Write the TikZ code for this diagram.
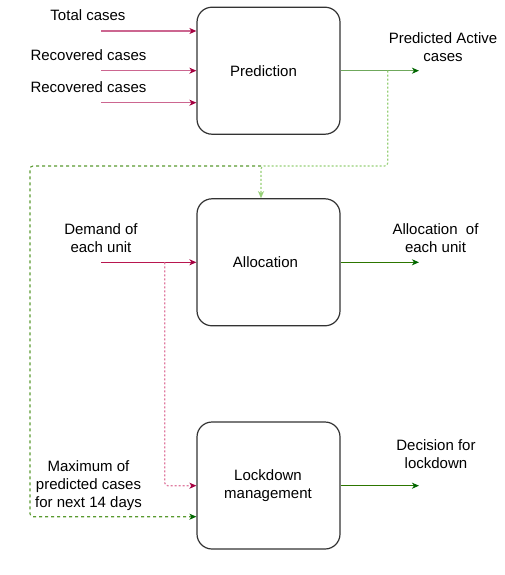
\documentclass[tikz,border=0pt]{standalone}
\usepackage{fontspec}
\setmainfont{Liberation Sans}
\usetikzlibrary{arrows.meta}
\definecolor{boxline}{HTML}{333333}
\definecolor{pinkline}{HTML}{CC6690}
\definecolor{pinkdark}{HTML}{A50040}
\definecolor{pinkmid}{HTML}{B8164F}
\definecolor{pinkdot}{HTML}{E07BA0}
\definecolor{greenlight}{HTML}{6FA85C}
\definecolor{greendark}{HTML}{2D7600}
\definecolor{greentip}{HTML}{006600}
\definecolor{greenpale}{HTML}{97D077}
\definecolor{greendash}{HTML}{5A9A30}
\tikzset{
  x=1pt,y=-1pt,
  procbox/.style={draw=boxline,line width=1.2pt,rounded corners=15pt,minimum width=143pt,minimum height=127pt,inner sep=0pt,font=\fontsize{15}{18}\selectfont,align=center},
  lbl/.style={font=\fontsize{15}{18}\selectfont,align=center,inner sep=0pt},
  pinktip/.style={-{Stealth[length=7pt,width=6pt,inset=2pt,color=pinkdark]}},
  greentipstyle/.style={-{Stealth[length=7pt,width=6pt,inset=2pt,color=greentip]}},
  inarrow/.style={pinktip,draw=pinkline,line width=1.5pt},
  inarrowdark/.style={pinktip,draw=pinkmid,line width=1.3pt},
  outarrow/.style={greentipstyle,draw=greendark,line width=1.3pt},
  outarrowlight/.style={greentipstyle,draw=greenlight,line width=1.6pt},
  paledash/.style={-{Stealth[length=7pt,width=6pt,inset=2pt,color=greenpale]},draw=greenpale,line width=1.1pt,dash pattern=on 2pt off 2pt,rounded corners=3pt},
  darkdash/.style={greentipstyle,draw=greendash,line width=1.1pt,dash pattern=on 3pt off 3pt,rounded corners=3pt},
  pinkdotted/.style={pinktip,draw=pinkdot,line width=1.2pt,dash pattern=on 2pt off 2pt,rounded corners=3pt}
}
\begin{document}
\begin{tikzpicture}
\useasboundingbox[fill=white] (0,0) rectangle (505,575);
% boxes
\node[procbox] (pred) at (268.5,70.7) {};
\node[lbl] (predt) at (263.5,71) {Prediction};
\node[procbox] (alloc) at (268.5,262.3) {};
\node[lbl] (alloct) at (265.5,262.3) {Allocation};
\node[procbox] (lock) at (268.5,485.5) {};
\node[lbl] (lockt) at (268,486) {Lockdown\\management};
% labels
\node[lbl] (l1) at (88,15) {Total cases};
\node[lbl] (l2) at (88.5,55) {Recovered cases};
\node[lbl] (l3) at (88.5,87) {Recovered cases};
\node[lbl] (lpa) at (443,47) {Predicted Active\\cases};
\node[lbl] (ldem) at (101,238.3) {Demand of\\each unit};
\node[lbl] (lal) at (435.5,238.3) {Allocation\ \ of\\each unit};
\node[lbl] (ldec) at (436,454) {Decision for\\lockdown};
\node[lbl] (lmax) at (88.5,486) {Maximum of\\predicted cases\\for next 14 days};
% coordinates for free ends
\coordinate (s1) at (101,31);
\coordinate (s2) at (101,70.7);
\coordinate (s3) at (101,102.7);
\coordinate (e1) at (419,70.7);
\coordinate (sd) at (101,262.3);
\coordinate (e2) at (419,262.3);
\coordinate (e3) at (419,485.7);
\coordinate (pa) at (387.7,70.7);
\coordinate (jn) at (261,166);
\coordinate (br) at (164.7,262.3);
% inputs
\draw[inarrow] (s1) -- (s1 -| pred.west);
\draw[inarrow] (s2) -- (s2 -| pred.west);
\draw[inarrow] (s3) -- (s3 -| pred.west);
\draw[inarrowdark] (sd) -- (sd -| alloc.west);
% outputs
\draw[outarrowlight] (pred.east |- e1) -- (e1);
\draw[outarrow] (alloc.east |- e2) -- (e2);
\draw[outarrow] (lock.east |- e3) -- (e3);
% dashed feedback
\draw[darkdash] (jn) -- (30,166) -- (30,516.7) -- (lock.west |- 0,516.7);
\draw[paledash] (pa) -- (387.7,166) -- (jn) -- (jn |- alloc.north);
\draw[pinkdotted] (br) -- (164.7,485.7) -- (lock.west |- 0,485.7);
\end{tikzpicture}
\end{document}
